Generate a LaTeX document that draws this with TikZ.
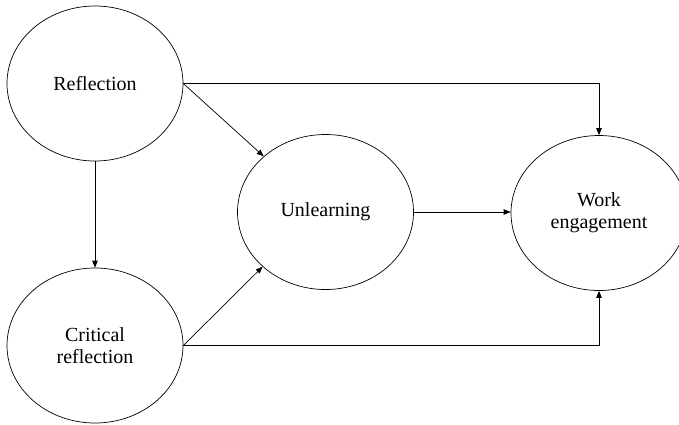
\documentclass[tikz,border=0pt]{standalone}
\usepackage{fontspec}
\setmainfont{Liberation Serif}
\usetikzlibrary{arrows.meta,shapes.geometric}
\begin{document}
\begin{tikzpicture}[x=1pt,y=-1pt,
  construct/.style={draw, line width=0.7pt, ellipse, minimum width=176pt, minimum height=155pt,
    inner sep=0pt, align=center, font=\fontsize{20}{22}\selectfont},
  link/.style={draw, line width=0.7pt, -{Triangle[length=7pt,width=5.5pt]}}]
  \useasboundingbox (0,0) rectangle (679,424);
  \begin{scope}
    \clip (0,0) rectangle (679,424);
    \node[construct] (ref) at (95,83.5) {Reflection};
    \node[construct] (crit) at (95,345.5) {Critical\\reflection};
    \node[construct] (unl) at (325.5,212) {Unlearning};
    \node[construct] (work) at (599,213) {Work\\engagement};
  \end{scope}
  \draw[link] (ref.east) -| (work.north);
  \draw[link] (ref.east) -- (unl.138);
  \draw[link] (ref.south) -- (crit.north);
  \draw[link] (crit.east) -- (unl.221);
  \draw[link] (crit.east) -| (work.south);
  \draw[link] (unl.east) -- (unl.east -| work.west);
\end{tikzpicture}
\end{document}
